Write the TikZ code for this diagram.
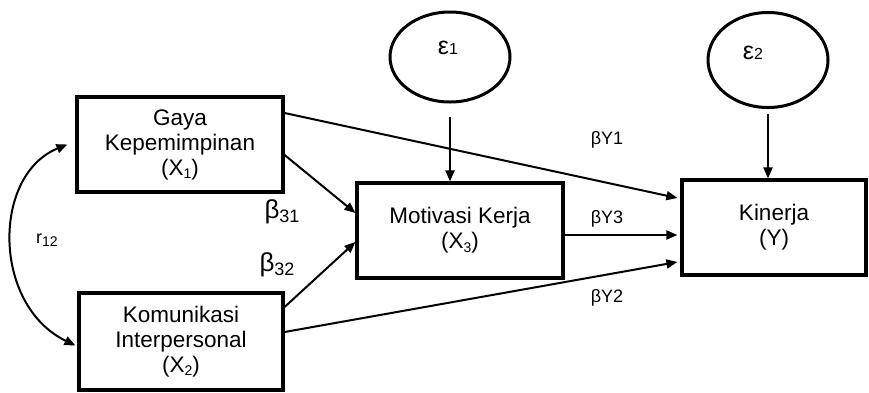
\documentclass[tikz,border=0pt]{standalone}
\usepackage{fontspec}
\setmainfont{Liberation Sans}
\usetikzlibrary{arrows.meta,shapes.geometric}
\begin{document}
\begin{tikzpicture}[x=1pt,y=-1pt,
  box/.style={draw,line width=3.2pt,minimum width=#1,align=center,inner sep=0pt,
     font=\fontsize{22.5}{25}\selectfont},
  lat/.style={draw,ellipse,line width=3pt,inner sep=0pt},
  arr/.style={line width=2pt,-{Triangle[length=11pt,width=9pt]}},
  lbl/.style={font=\fontsize{18}{20}\selectfont,inner sep=0pt},
  big/.style={font=\fontsize{26}{28}\selectfont,inner sep=0pt}]
\useasboundingbox (0,0) rectangle (869,392);
\newcommand{\sbs}[1]{\raisebox{-0.15em}{\fontsize{14}{14}\selectfont #1}}
\node[box=206pt,minimum height=95pt] (X1) at (180,144.5) {Gaya\\Kepemimpinan\\(X\sbs{1})};
\node[box=204pt,minimum height=97pt] (X2) at (181,341.5) {Komunikasi\\Interpersonal\\(X\sbs{2})};
\node[box=206pt,minimum height=95pt] (X3) at (460,230.5) {Motivasi Kerja\\(X\sbs{3})};
\node[box=184pt,minimum height=95pt] (Y) at (774,227.5) {Kinerja\\(Y)};
\node[lat,minimum width=120pt,minimum height=90pt] (E1) at (450,57) {};
\node[lat,minimum width=120pt,minimum height=95pt] (E2) at (768,60) {};
\node[inner sep=0pt] (e1t) at (448,48) {\fontsize{25}{25}\selectfont ε\fontsize{16}{16}\selectfont 1};
\node[inner sep=0pt] (e2t) at (753,53) {\fontsize{25}{25}\selectfont ε\fontsize{16}{16}\selectfont 2};
\draw[arr] ([yshift=-13pt]E1.south) -- (E1.south |- X3.north);
\draw[arr] ([yshift=-5pt]E2.south) -- (E2.south |- Y.north);
\draw[arr] ([yshift=31.5pt]X1.east) -- ([yshift=29.5pt,xshift=-3pt]Y.west);
\draw[arr] ([yshift=-10.5pt]X1.east) -- ([yshift=17.5pt]X3.west);
\draw[arr] ([yshift=34.5pt]X2.east) -- ([yshift=-11.5pt]X3.west);
\draw[arr] ([yshift=9.5pt]X2.east) -- ([yshift=-34.5pt,xshift=-3pt]Y.west);
\draw[arr] ([yshift=-4.5pt]X3.east) -- ([yshift=-4.5pt,xshift=-3pt]X3.east -| Y.west);
\draw[line width=2pt,{Triangle[length=11pt,width=9pt]}-{Triangle[length=11pt,width=9pt]}]
  ([xshift=-8pt]X1.west) .. controls (-8,175) and (-8,305) .. ([xshift=-2pt,yshift=-4pt]X2.west);
\node[lbl] (r12) at (47,240) {r\sbs{12}};
\node[big] (b31) at (282,212) {β\sbs{\fontsize{18}{18}\selectfont 31}};
\node[big] (b32) at (277,265) {β\sbs{\fontsize{18}{18}\selectfont 32}};
\node[lbl] (by1) at (607,140) {βY1};
\node[lbl] (by3) at (607,219) {βY3};
\node[lbl] (by2) at (607,298) {βY2};
\end{tikzpicture}
\end{document}
